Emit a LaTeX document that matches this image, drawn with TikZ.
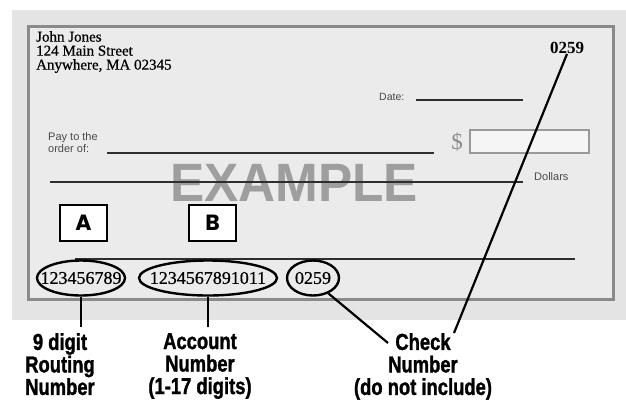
\documentclass[tikz,border=0pt]{standalone}
\usepackage{fontspec}
\setmainfont{Liberation Serif}
\newfontfamily\lsans{Liberation Sans}
\newfontfamily\heavy[FakeBold=1.6]{Liberation Sans}
\newfontfamily\medserif[FakeBold=0.6]{Liberation Serif}
\newfontfamily\popp{Poppins}
\usetikzlibrary{shapes.geometric}
\definecolor{bgc}{HTML}{E4E4E4}
\definecolor{chk}{HTML}{EBEBEB}
\definecolor{brd}{HTML}{8A8A8A}
\definecolor{ink}{HTML}{2E2E2E}
\definecolor{smalltxt}{HTML}{4A4A4A}
\begin{document}
\begin{tikzpicture}[x=1pt,y=-1pt,
  rule/.style={draw=ink, line width=2pt},
  small/.style={font=\medserif\lsans\fontsize{11}{11.5}\selectfont, text=smalltxt, inner sep=0pt},
  oval/.style={ellipse, draw=black, line width=2.4pt, inner sep=0pt},
  micr/.style={font=\medserif\fontsize{18}{18}\selectfont, inner sep=0pt},
  letterbox/.style={draw=black, fill=white, line width=1.3pt, inner sep=0pt, minimum width=47pt, minimum height=36pt, font=\popp\bfseries\fontsize{22}{22}\selectfont},
  lbl/.style={font=\heavy\bfseries\fontsize{23}{22.5}\selectfont, align=center, inner sep=0pt, xscale=0.8},
  conn/.style={draw=black, line width=2.2pt}]
\useasboundingbox (0,0) rectangle (626,400);
% background and check
\fill[bgc] (12,10) rectangle (626,320);
\draw[brd, fill=chk, line width=3pt] (28,26) rectangle (613,299);
% header
\node[anchor=north west, align=left, inner sep=0pt, font=\medserif\fontsize{15}{14}\selectfont] (addr) at (36,31) {John Jones\\124 Main Street\\Anywhere, MA 02345};
\node[font=\bfseries\fontsize{17}{17}\selectfont, inner sep=0pt] (num) at (567,48) {0259};
% date
\node[small, font=\lsans\fontsize{10.5}{11}\selectfont, anchor=west] (date) at (379,97) {Date:};
\coordinate (d1) at (416,100); \coordinate (d2) at (523,100);
\draw[rule] (d1) -- (d2);
% pay to
\node[small, anchor=west, align=left] (pay) at (48,142.5) {Pay to the\\order of:};
\coordinate (p1) at (107,153); \coordinate (p2) at (434,153);
\draw[rule] (p1) -- (p2);
\node[font=\fontsize{23}{23}\selectfont, text=black!45, inner sep=0pt] (dollar) at (457,142) {\$};
\node[draw=black!40, fill=black!4, line width=1.5pt, minimum width=119pt, minimum height=23pt, inner sep=0pt] (amt) at (529.5,141.5) {};
% EXAMPLE
\node[font=\lsans\bfseries\fontsize{54}{54}\selectfont, text=black!38, inner sep=0pt, xscale=0.95] (ex) at (294,183) {EXAMPLE};
\coordinate (l1) at (50,182); \coordinate (l2) at (523,182);
\draw[rule] (l1) -- (l2);
\node[small, anchor=west] (dol) at (534,177) {Dollars};
% A B
\node[letterbox] (A) at (83.5,223) {A};
\node[letterbox] (B) at (212.5,223) {B};
% signature / micr line
\coordinate (s1) at (75,259); \coordinate (s2) at (575,259);
\draw[rule] (s1) -- (s2);
% micr ovals
\node[oval, minimum width=88pt, minimum height=35pt] (e1) at (81,278) {};
\node[micr] (t1) at (e1.center) {123456789};
\node[oval, minimum width=138pt, minimum height=35pt] (e2) at (208,278) {};
\node[micr] (t2) at (e2.center) {1234567891011};
\node[oval, minimum width=52pt, minimum height=35pt] (e3) at (313,278) {};
\node[micr] (t3) at (e3.center) {0259};
% labels
\node[lbl, anchor=north] (lab1) at (60,333) {9 digit\\Routing\\Number};
\node[lbl, anchor=north] (lab2) at (200,333) {Account\\Number\\(1-17 digits)};
\node[lbl, anchor=north] (lab3) at (423,333) {Check\\Number\\(do not include)};
% connectors
\draw[conn, shorten >=6pt] (e1.south) -- (e1.south |- lab1.north);
\draw[conn, shorten >=6pt] (e2.south) -- (e2.south |- lab2.north);
\coordinate (c3) at (388,343);
\draw[conn] (e3.-45) -- (c3);
\coordinate (c4) at (454,333);
\draw[conn] (num.south) -- (c4);
\end{tikzpicture}
\end{document}
